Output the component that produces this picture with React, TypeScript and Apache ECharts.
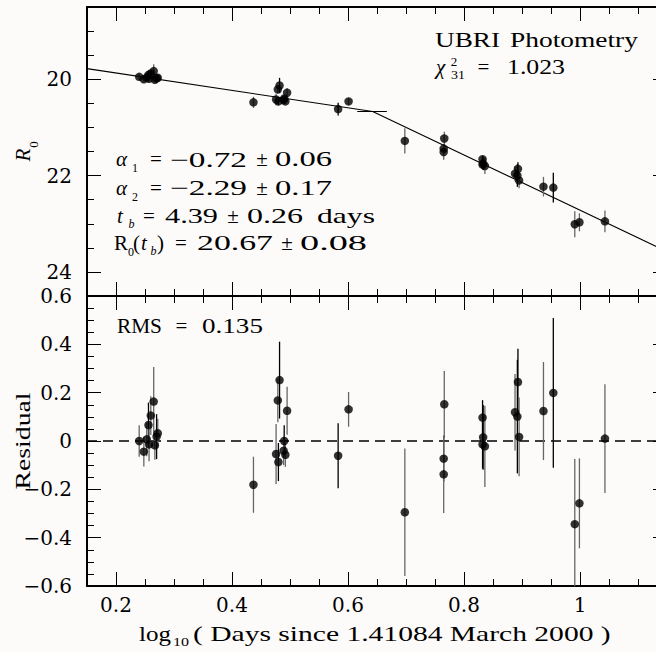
import React, { useEffect, useRef } from "react";
import * as echarts from "echarts";

// ---------------- data ----------------
const logT = [
  0.240, 0.248, 0.253, 0.256, 0.260, 0.265, 0.257, 0.267, 0.270, 0.272,
  0.437, 0.482, 0.479, 0.495, 0.490, 0.476, 0.480, 0.489, 0.492, 0.583, 0.601,
  0.698, 0.766, 0.765, 0.765, 0.832, 0.833, 0.832, 0.836, 0.888, 0.893, 0.892, 0.895,
  0.937, 0.954, 0.991, 0.999, 1.043,
];
const magR = [
  19.95, 20.00, 19.96, 19.91, 19.88, 19.83, 19.99, 20.01, 19.98, 19.97,
  20.48, 20.13, 20.21, 20.28, 20.40, 20.42, 20.46, 20.43, 20.46, 20.62, 20.46,
  21.28, 21.23, 21.44, 21.51, 21.66, 21.75, 21.77, 21.80, 21.96, 21.86, 22.00, 22.10,
  22.23, 22.25, 23.01, 22.97, 22.95,
];
const residual = [
  0.000, -0.044, 0.007, 0.066, 0.105, 0.163, -0.014, -0.018, 0.018, 0.032,
  -0.181, 0.252, 0.168, 0.125, 0.000, -0.054, -0.087, -0.040, -0.057, -0.061, 0.131,
  -0.295, 0.152, -0.073, -0.138, 0.097, 0.015, -0.014, -0.022, 0.119, 0.244, 0.101, 0.017,
  0.124, 0.199, -0.344, -0.258, 0.010,
];
const sigma = [
  0.065, 0.062, 0.07, 0.093, 0.08, 0.143, 0.07, 0.06, 0.093, 0.06,
  0.116, 0.159, 0.09, 0.099, 0.065, 0.124, 0.079, 0.06, 0.05, 0.134, 0.072,
  0.264, 0.138, 0.095, 0.16, 0.072, 0.134, 0.1, 0.168, 0.158, 0.138, 0.235, 0.163,
  0.203, 0.31, 0.27, 0.186, 0.225,
];
const band = [
  "I", "I", "I", "R", "I", "I", "I", "I", "R", "I",
  "I", "R", "I", "I", "R", "I", "R", "I", "I", "R", "I",
  "I", "I", "R", "I", "R", "R", "R", "I", "I", "R", "R", "I",
  "I", "R", "I", "I", "I",
];

// broken power-law fit (vertices) and the break-time error bar
const fitX = [0.15, 0.6425, 1.15];
const fitR = [19.78, 20.67, 23.58];
const tbRange = [0.616, 0.667];
const tbMag = 20.67;

// axes
const X_MIN = 0.15;
const X_MAX = 1.15;
const xMajor = [0.2, 0.4, 0.6, 0.8, 1.0];
const xMinor = [0.25, 0.3, 0.35, 0.45, 0.5, 0.55, 0.65, 0.7, 0.75, 0.85, 0.9, 0.95, 1.05, 1.1];
const magMin = 18.5;
const magMax = 24.5;
const magMajor = [20, 22, 24];
const magMinor = [19, 19.5, 20.5, 21, 21.5, 22.5, 23, 23.5];
const resMin = -0.6;
const resMax = 0.6;
const resMajor = [-0.6, -0.4, -0.2, 0, 0.2, 0.4, 0.6];
const resMinor = [-0.55, -0.5, -0.45, -0.35, -0.3, -0.25, -0.15, -0.1, -0.05,
  0.05, 0.1, 0.15, 0.25, 0.3, 0.35, 0.45, 0.5, 0.55];

// ---------------- helpers ----------------
const W = 656;
const H = 652;
const AXIS_FONT = "DejaVu Serif";
const TXT_FONT = "Liberation Serif";
const BLACK = "#000";
const GREY = "#666";

let mctx: CanvasRenderingContext2D | null = null;
function measure(s: string, size: number, italic: boolean) {
  if (!mctx) mctx = document.createElement("canvas").getContext("2d");
  if (!mctx) return s.length * size * 0.5;
  mctx.font = `${italic ? "italic " : ""}${size}px "${TXT_FONT}"`;
  const w = mctx.measureText(s).width;
  return w > 0 ? w : s.length * size * 0.5;
}

type Tok = { s: string; x0: number; x1?: number; cy: number; size?: number; italic?: boolean };

function tok(t: Tok): any {
  const size = t.size ?? 21;
  const italic = !!t.italic;
  const style: any = {
    text: t.s,
    fontFamily: TXT_FONT,
    fontSize: size,
    fontStyle: italic ? "italic" : "normal",
    fill: BLACK,
    verticalAlign: "middle",
    textVerticalAlign: "middle",
  };
  if (t.x1 !== undefined && t.s.length > 1) {
    const w = measure(t.s, size, italic);
    style.align = "left";
    style.textAlign = "left";
    return { type: "text", x: t.x0, y: t.cy, scaleX: (t.x1 - t.x0) / w, style, silent: true, z: 50 };
  }
  const cx = t.x1 !== undefined ? (t.x0 + t.x1) / 2 : t.x0;
  style.align = "center";
  style.textAlign = "center";
  return { type: "text", x: cx, y: t.cy, style, silent: true, z: 50 };
}

const tickLine = { color: BLACK, width: 1 };
const frameLine = { color: BLACK, width: 2 };
const labelFont = { fontFamily: AXIS_FONT, fontSize: 20, color: BLACK };

const fmtX = (v: number) => (Math.abs(v - 1) < 1e-9 ? "1" : v.toFixed(1));
const fmtMag = (v: number) => String(Math.round(v));
const fmtRes = (v: number) => {
  if (Math.abs(v) < 1e-9) return "0";
  const s = Math.abs(v).toFixed(1);
  return v < 0 ? "\u2212" + s : s;
};

function xAxes(gridIndex: number, labels: boolean) {
  const base: any = {
    type: "value", gridIndex, min: X_MIN, max: X_MAX,
    splitLine: { show: false }, minorTick: { show: false },
  };
  return [
    {
      ...base, position: "bottom",
      axisLine: { show: true, onZero: false, lineStyle: frameLine },
      axisTick: { show: true, inside: true, length: 14, customValues: xMajor, lineStyle: tickLine },
      axisLabel: { show: labels, customValues: xMajor, formatter: fmtX, margin: 9, ...labelFont },
    },
    {
      ...base, position: "bottom",
      axisLine: { show: false, onZero: false },
      axisTick: { show: true, inside: true, length: 7, customValues: xMinor, lineStyle: tickLine },
      axisLabel: { show: false },
    },
    {
      ...base, position: "top",
      axisLine: { show: true, onZero: false, lineStyle: frameLine },
      axisTick: { show: true, inside: true, length: 14, customValues: xMajor, lineStyle: tickLine },
      axisLabel: { show: false },
    },
    {
      ...base, position: "top",
      axisLine: { show: false, onZero: false },
      axisTick: { show: true, inside: true, length: 7, customValues: xMinor, lineStyle: tickLine },
      axisLabel: { show: false },
    },
  ];
}

function yAxes(gridIndex: number, min: number, max: number, inverse: boolean,
  major: number[], minor: number[], fmt: (v: number) => string) {
  const base: any = {
    type: "value", gridIndex, min, max, inverse,
    splitLine: { show: false }, minorTick: { show: false },
  };
  return [
    {
      ...base, position: "left",
      axisLine: { show: true, onZero: false, lineStyle: frameLine },
      axisTick: { show: true, inside: true, length: 14, customValues: major, lineStyle: tickLine },
      axisLabel: { show: true, customValues: major, formatter: fmt, margin: 15, ...labelFont },
    },
    {
      ...base, position: "left",
      axisLine: { show: false, onZero: false },
      axisTick: { show: true, inside: true, length: 7, customValues: minor, lineStyle: tickLine },
      axisLabel: { show: false },
    },
    {
      ...base, position: "right",
      axisLine: { show: true, onZero: false, lineStyle: frameLine },
      axisTick: { show: true, inside: true, length: 14, customValues: major, lineStyle: tickLine },
      axisLabel: { show: false },
    },
    {
      ...base, position: "right",
      axisLine: { show: false, onZero: false },
      axisTick: { show: true, inside: true, length: 7, customValues: minor, lineStyle: tickLine },
      axisLabel: { show: false },
    },
  ];
}

function errorBars(rows: number[][], axisIndex: number) {
  return {
    type: "custom",
    xAxisIndex: axisIndex,
    yAxisIndex: axisIndex,
    data: rows,
    clip: true,
    silent: true,
    z: 2,
    encode: { x: 0, y: 1 },
    renderItem: (_params: any, api: any) => {
      const x = api.value(0);
      const y = api.value(1);
      const e = api.value(2);
      const dark = api.value(3);
      const a = api.coord([x, y - e]);
      const b = api.coord([x, y + e]);
      return {
        type: "line",
        shape: { x1: a[0], y1: a[1], x2: b[0], y2: b[1] },
        style: { stroke: dark ? BLACK : GREY, lineWidth: 1.3 },
      };
    },
  };
}

function rotText(s: string, x: number, y: number, size: number, italic: boolean, targetLen?: number): any {
  const el: any = {
    type: "text", x, y, rotation: Math.PI / 2, silent: true, z: 50,
    style: {
      text: s, fontFamily: TXT_FONT, fontSize: size, fontStyle: italic ? "italic" : "normal",
      fill: BLACK, align: "center", textAlign: "center", verticalAlign: "middle", textVerticalAlign: "middle",
    },
  };
  if (targetLen) el.scaleX = targetLen / measure(s, size, italic);
  return el;
}

function buildOption() {
  const topRows = logT.map((x, i) => [x, magR[i], sigma[i], band[i] === "R" ? 1 : 0]);
  const resRows = logT.map((x, i) => [x, residual[i], sigma[i], band[i] === "R" ? 1 : 0]);

  const texts: Tok[] = [
    // UBRI Photometry
    { s: "UBRI", x0: 435, x1: 500, cy: 39.4 },
    { s: "Photometry", x0: 510, x1: 638, cy: 39.4 },
    // chi^2_31 = 1.023
    { s: "\u03c7", x0: 433, x1: 448, cy: 66.7, italic: true },
    { s: "2", x0: 454, cy: 61, size: 13 },
    { s: "31", x0: 451, x1: 465, cy: 74.5, size: 13 },
    { s: "=", x0: 477, x1: 490, cy: 66.7 },
    { s: "1.023", x0: 507, x1: 565, cy: 66.7 },
    // alpha_1
    { s: "\u03b1", x0: 115, x1: 128, cy: 159.4, italic: true },
    { s: "1", x0: 135, cy: 168.3, size: 12 },
    { s: "=", x0: 150, x1: 162, cy: 159.4 },
    { s: "\u22120.72", x0: 170, x1: 247, cy: 159.4 },
    { s: "\u00b1", x0: 257, x1: 267, cy: 159.4 },
    { s: "0.06", x0: 275, x1: 332, cy: 159.4 },
    // alpha_2
    { s: "\u03b1", x0: 115, x1: 128, cy: 187.7, italic: true },
    { s: "2", x0: 135, cy: 196.5, size: 12 },
    { s: "=", x0: 150, x1: 162, cy: 187.7 },
    { s: "\u22122.29", x0: 170, x1: 247, cy: 187.7 },
    { s: "\u00b1", x0: 257, x1: 267, cy: 187.7 },
    { s: "0.17", x0: 275, x1: 332, cy: 187.7 },
    // t_b
    { s: "t", x0: 117, x1: 123, cy: 215.7, italic: true },
    { s: "b", x0: 131.5, cy: 224, size: 12, italic: true },
    { s: "=", x0: 143, x1: 155, cy: 215.7 },
    { s: "4.39", x0: 165, x1: 218, cy: 215.7 },
    { s: "\u00b1", x0: 228, x1: 238, cy: 215.7 },
    { s: "0.26", x0: 247, x1: 303, cy: 215.7 },
    { s: "days", x0: 317, x1: 375, cy: 215.7 },
    // R0(t_b)
    { s: "R", x0: 115, x1: 127, cy: 242.7 },
    { s: "0", x0: 131, cy: 251.5, size: 12 },
    { s: "(", x0: 134, x1: 139, cy: 242.7 },
    { s: "t", x0: 141, x1: 147, cy: 242.7, italic: true },
    { s: "b", x0: 153.5, cy: 250.5, size: 12, italic: true },
    { s: ")", x0: 158, x1: 163, cy: 242.7 },
    { s: "=", x0: 175, x1: 187, cy: 242.7 },
    { s: "20.67", x0: 197, x1: 273, cy: 242.7 },
    { s: "\u00b1", x0: 282, x1: 292, cy: 242.7 },
    { s: "0.08", x0: 300, x1: 367, cy: 242.7 },
    // RMS
    { s: "RMS", x0: 117, x1: 162, cy: 325.7 },
    { s: "=", x0: 175, x1: 188, cy: 325.7 },
    { s: "0.135", x0: 202, x1: 263, cy: 325.7 },
    // x-axis title
    { s: "log", x0: 139, x1: 171, cy: 634 },
    { s: "10", x0: 173, x1: 189, cy: 642, size: 13 },
    { s: "( Days since 1.41084 March 2000 )", x0: 193, x1: 611, cy: 634 },
  ];

  const graphic: any[] = texts.map(tok);
  graphic.push(rotText("Residual", 23, 441, 21, false, 97));
  graphic.push(rotText("R", 22.5, 155, 21, true));
  graphic.push(rotText("0", 33, 144.5, 13, false));

  const gridBase = { left: 87, width: 580, outerBoundsMode: "none", containLabel: false };

  return {
    animation: false,
    backgroundColor: "#fdfbfa",
    grid: [
      { ...gridBase, top: 7, height: 289 },
      { ...gridBase, top: 296, height: 290 },
    ],
    xAxis: [...xAxes(0, false), ...xAxes(1, true)],
    yAxis: [
      ...yAxes(0, magMin, magMax, true, magMajor, magMinor, fmtMag),
      ...yAxes(1, resMin, resMax, false, resMajor, resMinor, fmtRes),
    ],
    series: [
      {
        type: "line", xAxisIndex: 0, yAxisIndex: 0, symbol: "none", silent: true, z: 1,
        data: fitX.map((x, i) => [x, fitR[i]]),
        lineStyle: { color: BLACK, width: 1.1 },
      },
      {
        type: "line", xAxisIndex: 0, yAxisIndex: 0, symbol: "none", silent: true, z: 1,
        data: tbRange.map((x) => [x, tbMag]),
        lineStyle: { color: BLACK, width: 1.1 },
      },
      errorBars(topRows, 0),
      {
        type: "scatter", xAxisIndex: 0, yAxisIndex: 0, symbol: "circle", symbolSize: 8.5, silent: true, z: 3,
        data: topRows.map((r) => [r[0], r[1]]),
        itemStyle: { color: BLACK },
      },
      {
        type: "line", xAxisIndex: 4, yAxisIndex: 4, symbol: "none", silent: true, z: 1,
        data: [[X_MIN, 0], [X_MAX, 0]],
        lineStyle: { color: BLACK, width: 1.4, type: [10, 6] },
      },
      errorBars(resRows, 4),
      {
        type: "scatter", xAxisIndex: 4, yAxisIndex: 4, symbol: "circle", symbolSize: 8.5, silent: true, z: 3,
        data: resRows.map((r) => [r[0], r[1]]),
        itemStyle: { color: BLACK },
      },
    ],
    graphic,
  };
}

export default function App() {
  const ref = useRef<HTMLDivElement>(null);
  useEffect(() => {
    if (!ref.current) return;
    const chart = echarts.init(ref.current, null, { renderer: "svg", width: W, height: H });
    chart.setOption(buildOption() as any);
    return () => chart.dispose();
  }, []);
  return (
    <div
      ref={ref}
      style={{ position: "fixed", left: 0, top: 0, width: W, height: H, background: "#fdfbfa" }}
    />
  );
}
